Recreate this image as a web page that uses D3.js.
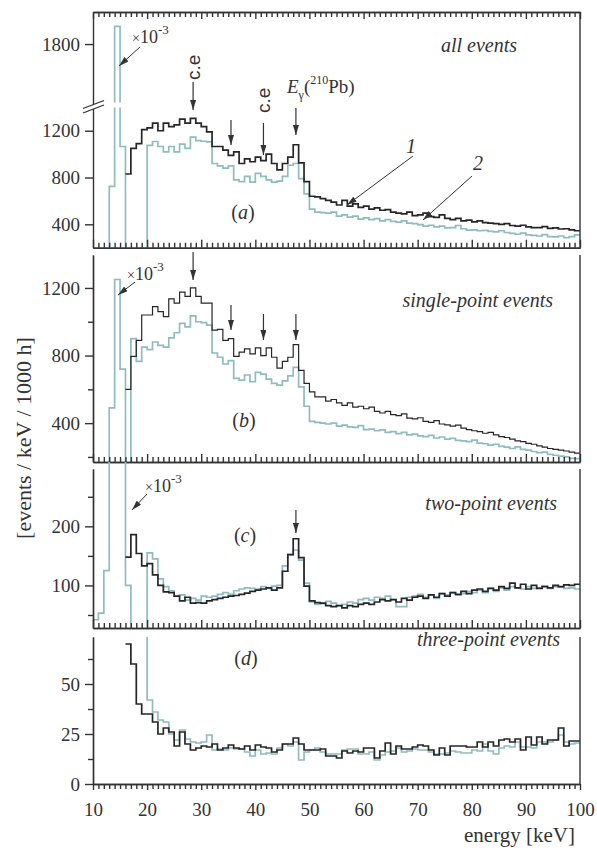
<!DOCTYPE html>
<html>
<head>
<meta charset="utf-8">
<script src="https://cdn.jsdelivr.net/npm/d3@7"></script>
<style>
  body { margin: 0; background: #fff; }
  svg { display: block; }
  text { font-family: "Liberation Serif", "DejaVu Serif", serif; fill: #333; }
  text.sans { font-family: "Liberation Sans", "DejaVu Sans", sans-serif; }
</style>
</head>
<body>
<svg id="chart" width="597" height="850"></svg>
<script>
// 1 keV bins, first bin starts at 10 keV; one value per bin (10..99 keV)
const binStart = 10;

// (a) all events
const allBlack = [
  null, null, null, null, null, null, 830, 1050, 1090, 1210,
  1225, 1265, 1200, 1265, 1235, 1250, 1300, 1265, 1305, 1265,
  1235, 1190, 1065, 1065, 1035, 990, 1020, 920, 960, 935,
  975, 945, 1000, 920, 865, 920, 975, 1080, 925, 765,
  640, 635, 620, 605, 590, 565, 605, 555, 575, 545,
  555, 530, 540, 520, 525, 505, 495, 490, 505, 475,
  480, 495, 465, 460, 480, 450, 440, 450, 430, 435,
  420, 430, 415, 410, 405, 400, 405, 390, 385, 392,
  378, 372, 372, 380, 365, 370, 360, 362, 352, 345
];
const allCyan = [
  null, null, 0, 725, 1910, 1065, 0, 0, 0, 0,
  1075, 1108, 1065, 1020, 1065, 1020, 1085, 1050, 1145, 1115,
  1110, 1105, 920, 900, 880, 900, 780, 765, 810, 760,
  835, 810, 780, 760, 770, 810, 905, 920, 790, 660,
  530, 505, 500, 495, 505, 470, 480, 462, 470, 445,
  455, 440, 448, 430, 440, 425, 418, 430, 410, 405,
  398, 385, 392, 378, 385, 370, 372, 390, 362, 350,
  352, 345, 348, 340, 335, 345, 330, 322, 315, 325,
  310, 305, 300, 312, 295, 292, 300, 285, 295, 310
];

// (b) single-point events
const singleBlack = [
  null, null, null, null, null, null, 600, 795, 890, 1040,
  1040, 1090, 1060, 1030, 1135, 1110, 1175, 1150, 1200, 1150,
  1110, 1110, 950, 955, 890, 900, 795, 820, 840, 810,
  845, 800, 845, 790, 725, 765, 790, 865, 712, 635,
  585, 555, 555, 530, 540, 520, 505, 520, 495, 500,
  485, 495, 470, 460, 470, 450, 445, 455, 430, 425,
  432, 410, 405, 415, 395, 390, 382, 388, 370, 362,
  355, 350, 340, 345, 330, 320, 315, 305, 295, 290,
  280, 275, 265, 258, 250, 245, 240, 235, 228, 222
];
const singleCyan = [
  null, null, 0, 490, 1250, 720, 0, 900, 765, 850,
  835, 880, 860, 850, 905, 935, 990, 970, 1035, 1000,
  995, 980, 815, 790, 750, 770, 665, 655, 685, 645,
  700, 690, 660, 635, 625, 650, 680, 730, 615, 500,
  410, 405, 400, 395, 400, 382, 388, 378, 375, 385,
  362, 365, 355, 360, 345, 350, 338, 345, 330, 335,
  325, 320, 328, 312, 318, 305, 310, 298, 295, 290,
  300, 282, 278, 270, 275, 262, 258, 250, 260, 245,
  240, 232, 225, 228, 215, 210, 205, 200, 192, 190
];

// (c) two-point events
const twoBlack = [
  null, null, null, null, null, null, 148, 186, 154, 133,
  137, 118, 100, 89, 88, 82, 74, 80, 70, 71,
  70, 74, 76, 78, 80, 82, 83, 85, 87, 90,
  92, 94, 96, 92, 96, 124, 152, 179, 147, 99,
  74, 71, 70, 66, 64, 66, 62, 66, 64, 68,
  70, 68, 72, 76, 74, 76, 72, 78, 75, 80,
  82, 78, 84, 80, 86, 82, 88, 85, 90, 86,
  92, 94, 90, 95, 92, 98, 95, 104, 96, 102,
  94, 100, 95, 98, 96, 100, 98, 101, 100, 102
];
const twoCyan = [
  42, 53, 125, 1000, 1000, 1000, 100, 0, 0, 0,
  155, 145, 111, 98, 91, 82, 84, 75, 78, 75,
  82, 80, 82, 85, 88, 85, 91, 94, 96, 95,
  94, 98, 95, 99, 100, 133, 152, 160, 143, 104,
  72, 68, 69, 73, 70, 66, 68, 72, 70, 76,
  78, 75, 80, 78, 82, 76, 64, 64, 80, 82,
  85, 80, 84, 78, 86, 84, 88, 84, 86, 90,
  88, 92, 88, 95, 90, 96, 92, 98, 96, 94,
  98, 95, 96, 99, 95, 98, 97, 95, 96, 94
];

// (d) three-point events
const threeBlack = [
  null, null, null, null, null, null, 70, 60, 40, 35,
  35, 31, 25, 28, 26, 19, 26, 20, 17, 18,
  19, 18.5, 20, 17, 18, 19.5, 18, 17.5, 19, 17,
  19.5, 18.5, 18, 16, 17, 20, 20, 23, 20, 17,
  17, 17, 17.5, 14, 14, 13, 16.5, 15.5, 16.5, 16,
  18, 18, 13, 16.5, 20.5, 15, 19, 17.5, 17.5, 18.5,
  19.5, 19, 17, 14.5, 18, 14.5, 19, 19, 19, 18.5,
  18.5, 21, 18.5, 21, 19, 22, 22.5, 21, 22.5, 17,
  23.5, 19.5, 23.5, 20, 22, 22, 28, 19, 21.5, 21.5
];
const threeCyan = [
  null, null, null, null, null, null, null, null, null, 500,
  42, 36, 32, 31, 25, 22, 27, 22.5, 21, 20.5,
  21, 24.5, 17, 17.5, 17, 18, 17.5, 17.5, 16, 14,
  17, 15, 15.5, 15, 18, 20, 19, 21, 12, 16,
  17, 18, 16, 15, 15, 15, 17, 17.5, 17.5, 15,
  15, 16, 12, 14.5, 16, 16.5, 18, 16, 16.5, 17.5,
  17, 17, 16, 15, 15, 15.5, 16.5, 16, 15.5, 15.5,
  17, 16.5, 20, 16.5, 15, 18, 19, 18.5, 21, 18.5,
  18.5, 18, 21, 21, 21, 22, 24.5, 21, 20, 20.5
];

// arrows marking lines (keV)
const lineMarks = [28.5, 35.5, 41.5, 47.5];

const blackColor = "#262626";
const cyanColor = "#8fbcc1";
const axisColor = "#333";

const svg = d3.select("#chart");
const x = d3.scaleLinear().domain([10, 100]).range([93, 580]);

svg.append("defs").append("marker")
    .attr("id", "head")
    .attr("viewBox", "0 0 10 6")
    .attr("refX", 10).attr("refY", 3)
    .attr("markerWidth", 10).attr("markerHeight", 6)
    .attr("markerUnits", "userSpaceOnUse")
    .attr("orient", "auto")
  .append("path")
    .attr("d", "M0,0L10,3L0,6z")
    .attr("fill", "#333");

// clipTop lets the off-scale cyan spike run up to the panel above
const panels = [
  { id: "a", top: 12, bottom: 247.7, domain: [200, 1420, 2000], black: allBlack, cyan: allCyan,
    major: [400, 800, 1200, 1800], minor: [], topAxis: true, lw: 1.7 },
  { id: "b", top: 255, bottom: 462, domain: [170, 1395], black: singleBlack, cyan: singleCyan,
    major: [400, 800, 1200], minor: [200, 600, 1000], lw: 1.2 },
  { id: "c", top: 469, clipTop: 462, bottom: 628, domain: [28, 297], black: twoBlack, cyan: twoCyan,
    major: [100, 200], minor: [50, 150, 250], lw: 1.7 },
  { id: "d", top: 637, bottom: 784, domain: [0, 73.5], black: threeBlack, cyan: threeCyan,
    major: [0, 25, 50], minor: [12.5, 37.5, 62.5], lw: 1.7, labels: true }
];

function stepPoints(vals) {
  const pts = vals.map((v, i) => ({ e: binStart + i, v: v }));
  pts.push({ e: binStart + vals.length, v: vals[vals.length - 1] });
  return pts;
}

function styleAxis(g) {
  g.attr("font-family", null).attr("font-size", null);
  g.selectAll("path, line").attr("stroke", axisColor).attr("stroke-width", 1.4);
  g.selectAll("text").attr("font-size", 19).attr("fill", "#333");
}

panels.forEach(p => {
  const range = p.domain.length === 3 ? [p.bottom, 105, p.top] : [p.bottom, p.top];
  const y = d3.scaleLinear().domain(p.domain).range(range);
  const g = svg.append("g");
  const clipTop = p.clipTop || p.top;

  g.append("clipPath").attr("id", "clip-" + p.id)
    .append("rect").attr("x", x(10)).attr("y", clipTop)
    .attr("width", x(100) - x(10)).attr("height", p.bottom - clipTop);

  const line = d3.line()
    .defined(d => d.v != null)
    .x(d => x(d.e)).y(d => y(d.v))
    .curve(d3.curveStepAfter);

  const plot = g.append("g").attr("clip-path", "url(#clip-" + p.id + ")");
  plot.append("path").datum(stepPoints(p.cyan))
    .attr("fill", "none").attr("stroke", cyanColor).attr("stroke-width", 1.7)
    .attr("d", line);
  plot.append("path").datum(stepPoints(p.black))
    .attr("fill", "none").attr("stroke", blackColor).attr("stroke-width", p.lw)
    .attr("d", line);

  // left axis
  g.append("g").attr("transform", `translate(${x(10)},0)`)
    .call(d3.axisLeft(y).tickValues(p.major).tickSize(8).tickSizeOuter(0).tickPadding(5).tickFormat(d3.format("d")))
    .call(styleAxis);
  if (p.minor.length) {
    g.append("g").attr("transform", `translate(${x(10)},0)`)
      .call(d3.axisLeft(y).tickValues(p.minor).tickSize(5).tickSizeOuter(0).tickFormat(""))
      .call(styleAxis);
  }
  // right border
  g.append("line").attr("x1", x(100)).attr("x2", x(100)).attr("y1", p.top).attr("y2", p.bottom)
    .attr("stroke", axisColor).attr("stroke-width", 1.4);

  // bottom axis
  const keV1 = d3.range(10, 101, 1).filter(v => v % 10 !== 0);
  const keV10 = d3.range(10, 101, 10);
  const bottom = g.append("g").attr("transform", `translate(0,${p.bottom})`);
  if (p.labels) {
    bottom.append("g").call(d3.axisBottom(x).tickValues(keV1).tickSize(5).tickSizeOuter(0).tickFormat("")).call(styleAxis);
    bottom.append("g").call(d3.axisBottom(x).tickValues(keV10).tickSize(6).tickSizeOuter(0).tickPadding(13).tickFormat(d3.format("d"))).call(styleAxis);
  } else {
    bottom.append("g").call(d3.axisBottom(x).tickValues(keV1).tickSize(-5).tickSizeOuter(0).tickFormat("")).call(styleAxis);
    bottom.append("g").call(d3.axisBottom(x).tickValues(keV10).tickSize(-8).tickSizeOuter(0).tickFormat("")).call(styleAxis);
  }
  if (p.topAxis) {
    const topG = g.append("g").attr("transform", `translate(0,${p.top})`);
    topG.append("g").call(d3.axisTop(x).tickValues(keV1).tickSize(-5).tickSizeOuter(0).tickFormat("")).call(styleAxis);
    topG.append("g").call(d3.axisTop(x).tickValues(keV10).tickSize(-7).tickSizeOuter(0).tickFormat("")).call(styleAxis);
  }
});

// axis break on panel (a)
const brk = svg.append("g");
brk.append("rect").attr("x", 104).attr("y", 102.5).attr("width", 22).attr("height", 5).attr("fill", "#fff");
brk.append("polygon").attr("points", "83,109 104,101 104,105 83,113").attr("fill", "#fff");
brk.append("line").attr("x1", 83).attr("y1", 108.5).attr("x2", 104).attr("y2", 100.5)
  .attr("stroke", axisColor).attr("stroke-width", 1.3);
brk.append("line").attr("x1", 83).attr("y1", 113).attr("x2", 104).attr("y2", 105)
  .attr("stroke", axisColor).attr("stroke-width", 1.3);

// annotations
function arrow(x1, y1, x2, y2, w) {
  svg.append("line").attr("x1", x1).attr("y1", y1).attr("x2", x2).attr("y2", y2)
    .attr("stroke", "#333").attr("stroke-width", w || 1).attr("marker-end", "url(#head)");
}
function label(txt, x0, y0, size, opts) {
  opts = opts || {};
  return svg.append("text").attr("x", x0).attr("y", y0)
    .attr("font-size", size)
    .attr("font-style", opts.italic ? "italic" : null)
    .attr("text-anchor", opts.anchor || "start")
    .text(txt);
}
function scaleNote(x0, y0) {
  const t = svg.append("text").attr("x", x0).attr("y", y0).attr("font-size", 18);
  t.append("tspan").attr("font-size", 14).text("×");
  t.append("tspan").text("10");
  t.append("tspan").attr("dy", -9).attr("font-size", 13).text("-3");
}

// (a)
scaleNote(132, 43);
arrow(140, 47, 119, 66);
[[0, 82, 110], [1, 120, 145], [2, 123, 155], [3, 108, 135]].forEach(([i, y1, y2]) =>
  arrow(x(lineMarks[i]), y1, x(lineMarks[i]), y2, 1.2));
svg.append("text").attr("class", "sans").attr("transform", `translate(${x(lineMarks[0]) + 7},80) rotate(-90)`)
  .attr("font-size", 19).text("c.e");
svg.append("text").attr("class", "sans").attr("transform", `translate(${x(lineMarks[2]) + 7},113) rotate(-90)`)
  .attr("font-size", 19).text("c.e");
const eg = svg.append("text").attr("x", 287).attr("y", 93).attr("font-size", 19);
eg.append("tspan").attr("font-style", "italic").text("E");
eg.append("tspan").attr("font-size", 12).attr("dy", 6).text("γ");
eg.append("tspan").attr("dy", -6).text("(");
eg.append("tspan").attr("font-size", 12).attr("dy", -9).text("210");
eg.append("tspan").attr("dy", 9).text("Pb)");
label("all events", 517, 52, 20, { italic: true, anchor: "end" });
label("(a)", 243, 219, 20, { anchor: "middle" }).html('(<tspan font-style="italic">a</tspan>)');
label("1", 406, 153, 20, { italic: true });
arrow(413, 156, 347, 205);
label("2", 473, 170, 20, { italic: true });
arrow(472, 176, 423, 220);

// (b)
scaleNote(127, 280);
arrow(135, 282, 118, 295);
[[0, 252, 280], [1, 305, 330], [2, 314, 340], [3, 314, 340]].forEach(([i, y1, y2]) =>
  arrow(x(lineMarks[i]), y1, x(lineMarks[i]), y2, 1.2));
label("single-point events", 553, 307, 20, { italic: true, anchor: "end" });
label("(b)", 244, 427, 20, { anchor: "middle" }).html('(<tspan font-style="italic">b</tspan>)');

// (c)
scaleNote(145, 492);
arrow(147, 494, 132, 510);
arrow(x(lineMarks[3]), 510, x(lineMarks[3]), 533, 1.2);
label("two-point events", 557, 510, 20, { italic: true, anchor: "end" });
label("(c)", 245, 542, 20, { anchor: "middle" }).html('(<tspan font-style="italic">c</tspan>)');

// (d)
label("three-point events", 560, 646, 20, { italic: true, anchor: "end" });
label("(d)", 246, 665, 20, { anchor: "middle" }).html('(<tspan font-style="italic">d</tspan>)');

// axis titles
label("energy [keV]", 575, 842, 21, { anchor: "end" });
svg.append("text").attr("transform", "translate(31,438) rotate(-90)")
  .attr("text-anchor", "middle").attr("font-size", 22)
  .text("[events / keV / 1000 h]");
</script>
</body>
</html>
